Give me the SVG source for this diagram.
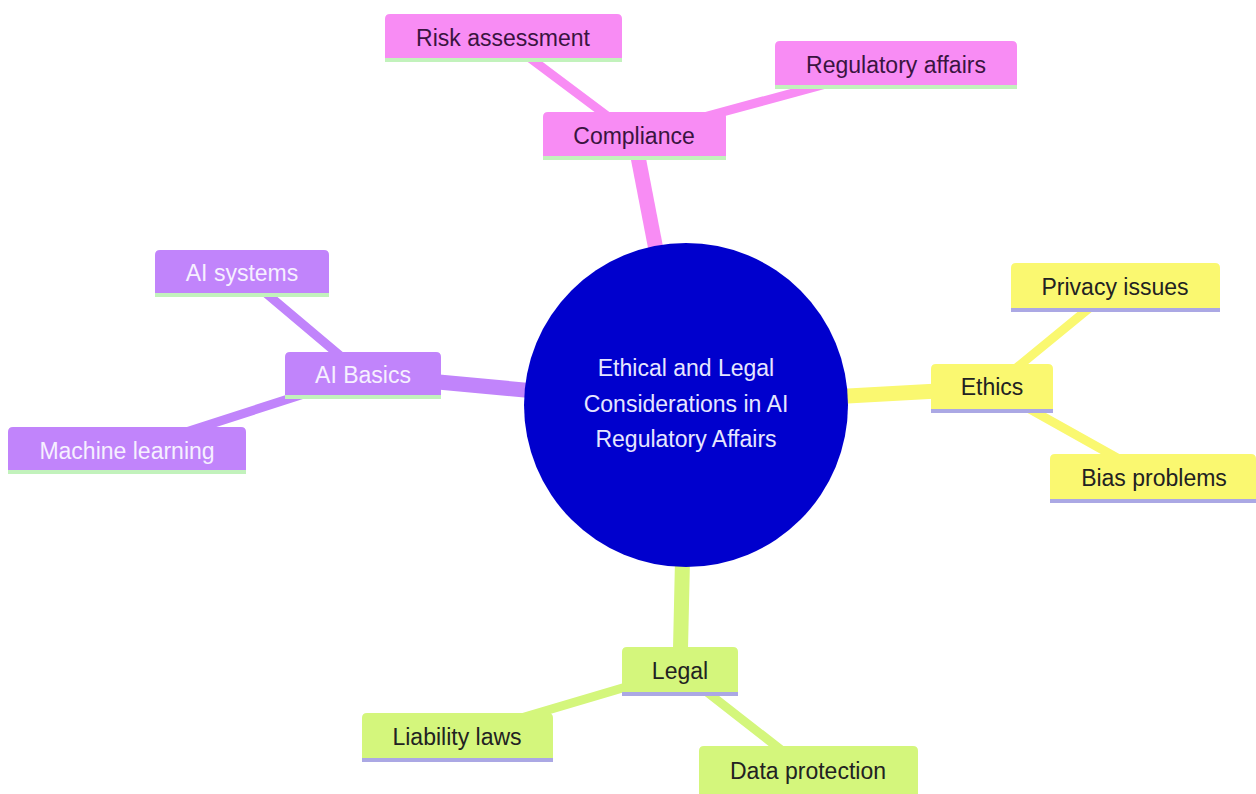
<svg xmlns="http://www.w3.org/2000/svg" width="1256" height="794" viewBox="0 0 1256 794">
<style>
text{font-family:"Liberation Sans",Arial,sans-serif;font-size:23px;text-anchor:middle}
.e{fill:none;stroke-linecap:round}
.pk{stroke:#F88CF4}.pu{stroke:#C184FB}.ye{stroke:#FAF870}.gr{stroke:#D4F67C}
.r{stroke-width:15}.l{stroke-width:9}
.npk{fill:#F88CF4}.npu{fill:#C184FB}.nye{fill:#FAF870}.ngr{fill:#D4F67C}
.ulg{stroke:#C2F2BC;stroke-width:4}.ulv{stroke:#ABA8E4;stroke-width:4}
.tpk{fill:#3A1440}.tpu{fill:#F6F0FF}.tdk{fill:#222222}.troot{fill:#E6E6FF}
</style>
<rect width="1256" height="794" fill="#FFFFFF"/>
<g id="connectors">
<line class="e pk r" x1="686" y1="405" x2="634" y2="136"/>
<line class="e pu r" x1="686" y1="405" x2="363" y2="375"/>
<line class="e ye r" x1="686" y1="405" x2="992" y2="388"/>
<line class="e gr r" x1="686" y1="405" x2="680" y2="671"/>
<line class="e pk l" x1="634" y1="136" x2="503" y2="38"/>
<line class="e pk l" x1="634" y1="136" x2="896" y2="65"/>
<line class="e pu l" x1="363" y1="375" x2="242" y2="273"/>
<line class="e pu l" x1="363" y1="375" x2="127" y2="451"/>
<line class="e ye l" x1="992" y1="388" x2="1115" y2="287"/>
<line class="e ye l" x1="992" y1="388" x2="1153" y2="478"/>
<line class="e gr l" x1="680" y1="671" x2="457" y2="737"/>
<line class="e gr l" x1="680" y1="671" x2="808" y2="771"/>
</g>
<g id="root">
<circle cx="686" cy="405" r="162" fill="#0000CD"/>
<text class="troot" x="686" y="376">Ethical and Legal</text>
<text class="troot" x="686" y="412">Considerations in AI</text>
<text class="troot" x="686" y="447">Regulatory Affairs</text>
</g>
<g id="compliance">
<path class="npk" d="M543,158 V117 Q543,112 548,112 H721 Q726,112 726,117 V158 Z"/>
<line class="ulg" x1="543" y1="158" x2="726" y2="158"/>
<text class="tpk" x="634" y="144">Compliance</text>
</g>
<g id="risk-assessment">
<path class="npk" d="M385,60 V19 Q385,14 390,14 H617 Q622,14 622,19 V60 Z"/>
<line class="ulg" x1="385" y1="60" x2="622" y2="60"/>
<text class="tpk" x="503" y="46">Risk assessment</text>
</g>
<g id="regulatory-affairs">
<path class="npk" d="M775,87 V46 Q775,41 780,41 H1012 Q1017,41 1017,46 V87 Z"/>
<line class="ulg" x1="775" y1="87" x2="1017" y2="87"/>
<text class="tpk" x="896" y="73">Regulatory affairs</text>
</g>
<g id="ai-basics">
<path class="npu" d="M285,397 V357 Q285,352 290,352 H436 Q441,352 441,357 V397 Z"/>
<line class="ulg" x1="285" y1="397" x2="441" y2="397"/>
<text class="tpu" x="363" y="383">AI Basics</text>
</g>
<g id="ai-systems">
<path class="npu" d="M155,295 V255 Q155,250 160,250 H324 Q329,250 329,255 V295 Z"/>
<line class="ulg" x1="155" y1="295" x2="329" y2="295"/>
<text class="tpu" x="242" y="281">AI systems</text>
</g>
<g id="machine-learning">
<path class="npu" d="M8,472 V432 Q8,427 13,427 H241 Q246,427 246,432 V472 Z"/>
<line class="ulg" x1="8" y1="472" x2="246" y2="472"/>
<text class="tpu" x="127" y="459">Machine learning</text>
</g>
<g id="ethics">
<path class="nye" d="M931,411 V369 Q931,364 936,364 H1048 Q1053,364 1053,369 V411 Z"/>
<line class="ulv" x1="931" y1="411" x2="1053" y2="411"/>
<text class="tdk" x="992" y="395">Ethics</text>
</g>
<g id="privacy-issues">
<path class="nye" d="M1011,310 V268 Q1011,263 1016,263 H1215 Q1220,263 1220,268 V310 Z"/>
<line class="ulv" x1="1011" y1="310" x2="1220" y2="310"/>
<text class="tdk" x="1115" y="295">Privacy issues</text>
</g>
<g id="bias-problems">
<path class="nye" d="M1050,501 V459 Q1050,454 1055,454 H1251 Q1256,454 1256,459 V501 Z"/>
<line class="ulv" x1="1050" y1="501" x2="1256" y2="501"/>
<text class="tdk" x="1154" y="486">Bias problems</text>
</g>
<g id="legal">
<path class="ngr" d="M622,694 V652 Q622,647 627,647 H733 Q738,647 738,652 V694 Z"/>
<line class="ulv" x1="622" y1="694" x2="738" y2="694"/>
<text class="tdk" x="680" y="679">Legal</text>
</g>
<g id="liability-laws">
<path class="ngr" d="M362,760 V718 Q362,713 367,713 H548 Q553,713 553,718 V760 Z"/>
<line class="ulv" x1="362" y1="760" x2="553" y2="760"/>
<text class="tdk" x="457" y="745">Liability laws</text>
</g>
<g id="data-protection">
<path class="ngr" d="M699,794 V751 Q699,746 704,746 H913 Q918,746 918,751 V794 Z"/>
<text class="tdk" x="808" y="779">Data protection</text>
</g>
</svg>
